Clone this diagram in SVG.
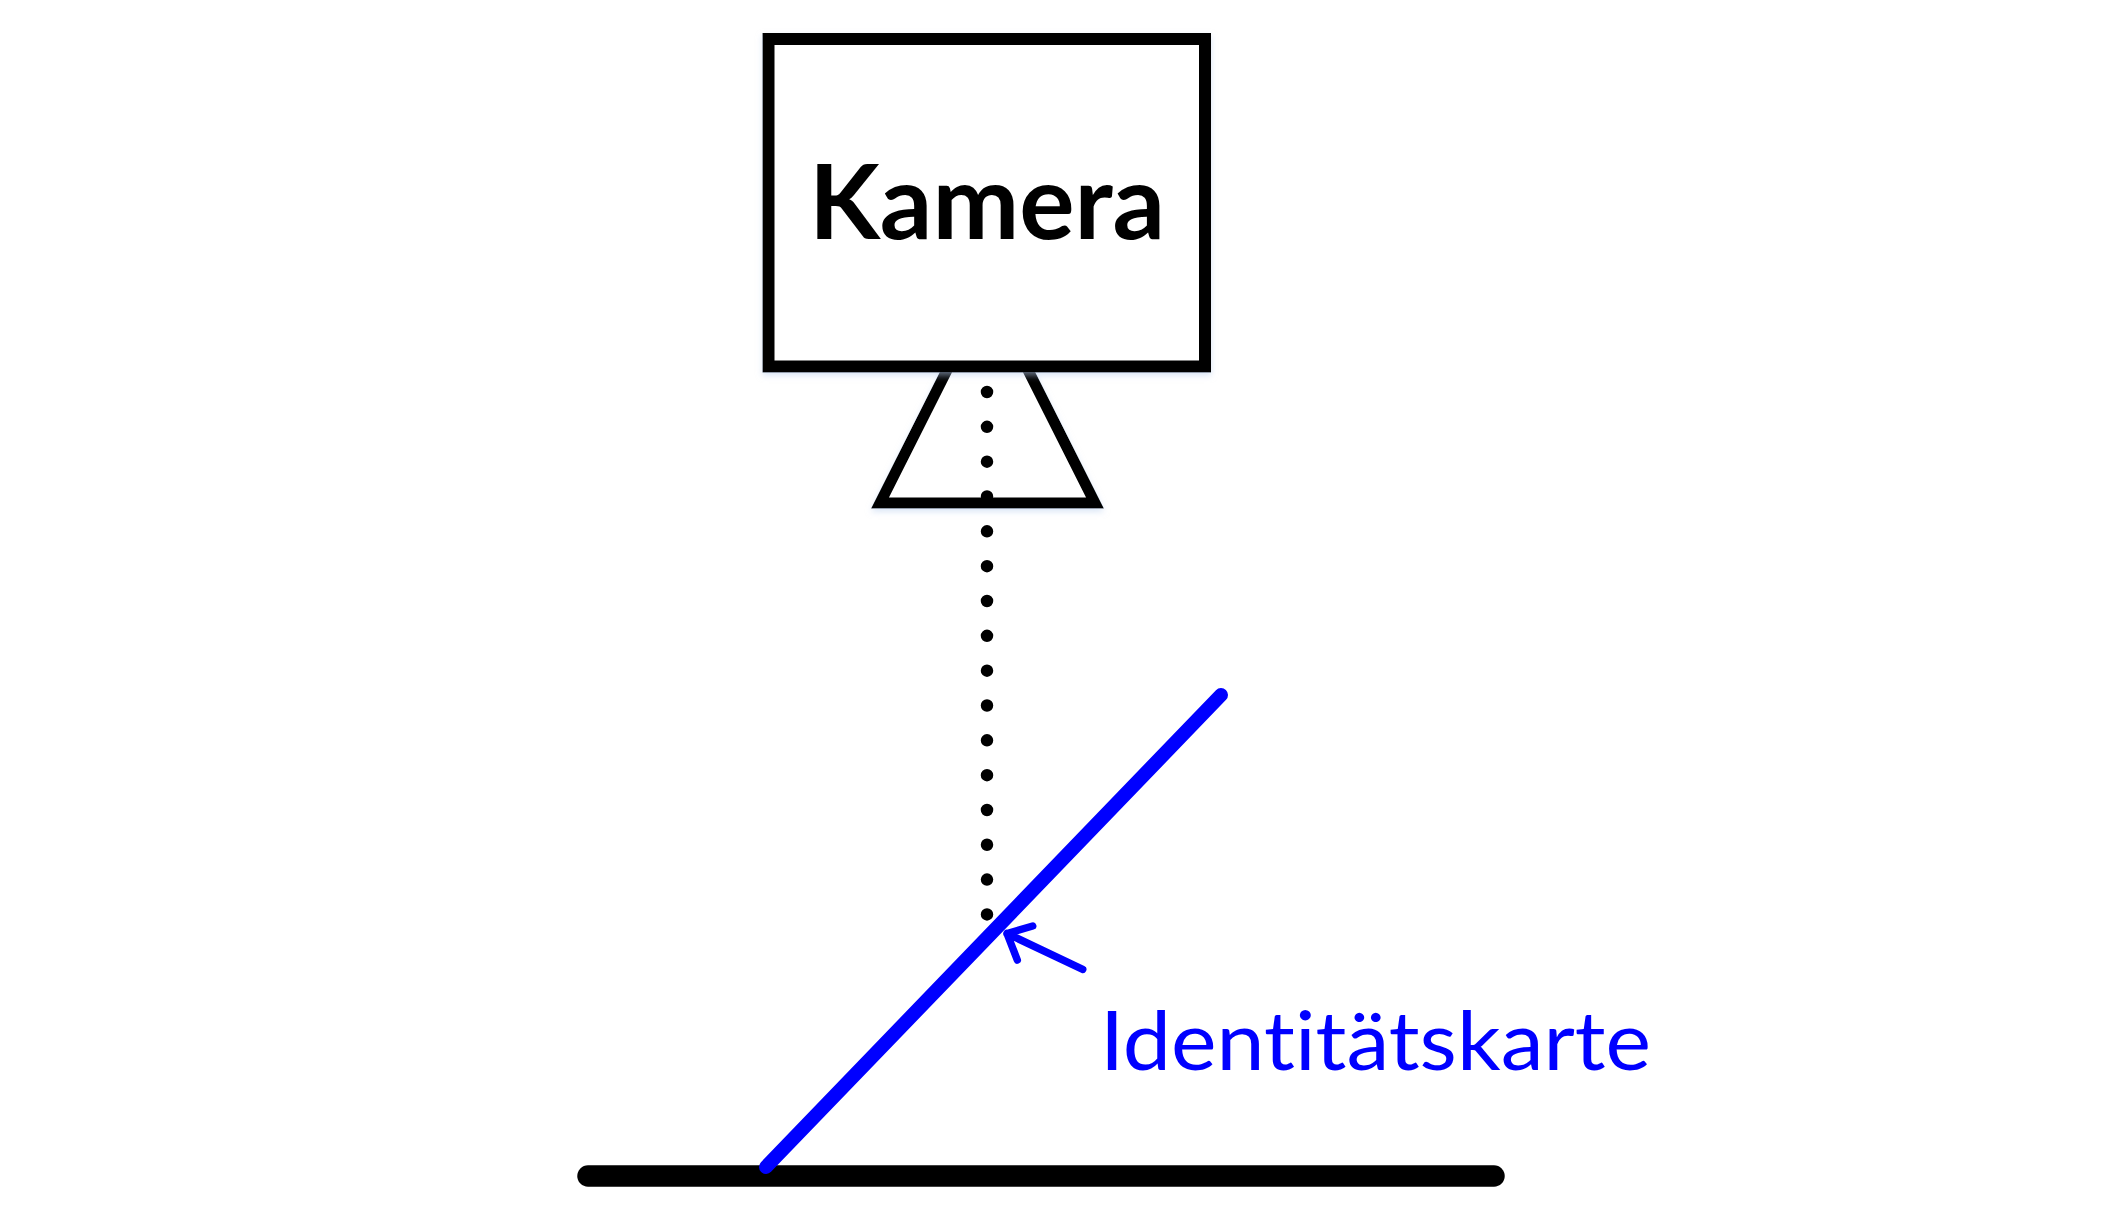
<svg xmlns="http://www.w3.org/2000/svg" width="2119" height="1231" viewBox="0 0 2119 1231">
  <defs>
    <filter id="glow" x="-10%" y="-10%" width="120%" height="130%">
      <feDropShadow dx="0" dy="3" stdDeviation="3" flood-color="#b8cfee" flood-opacity="0.55"/>
    </filter>
    <style>
      .outline { fill: #ffffff; stroke: #000000; stroke-linejoin: miter; }
      .title { font-family: Lato, "Liberation Sans", sans-serif; font-weight: 700; fill: #000000; font-variant-ligatures: none; font-feature-settings: "liga" 0, "clig" 0; }
      .label { font-family: Lato, "Liberation Sans", sans-serif; font-weight: 400; fill: #0000ff; font-variant-ligatures: none; font-feature-settings: "liga" 0, "clig" 0; }
      .blue { stroke: #0000ff; fill: none; stroke-linecap: round; stroke-linejoin: round; }
    </style>
  </defs>
  <rect x="0" y="0" width="2119" height="1231" fill="#ffffff"/>

  <g id="lens" filter="url(#glow)">
    <polygon class="outline" stroke-width="11" points="949,366 1026,366 1095,503 880,503"/>
  </g>

  <g id="camera" filter="url(#glow)">
    <rect class="outline" stroke-width="12" x="768.5" y="39" width="436.5" height="327.5"/>
    <text class="title" x="987" y="239" font-size="104" text-anchor="middle" textLength="356" lengthAdjust="spacingAndGlyphs">Kamera</text>
  </g>

  <g id="surface">
    <line x1="588" y1="1176" x2="1494" y2="1176" stroke="#000000" stroke-width="21.5" stroke-linecap="round"/>
  </g>

  <g id="card">
    <line class="blue" x1="1221" y1="695" x2="766" y2="1167" stroke-width="14"/>
  </g>

  <g id="connectors">
    <line x1="987" y1="392" x2="987" y2="914.5" stroke="#000000" stroke-width="12.5" stroke-linecap="round" stroke-dasharray="0 34.83"/>
    <path class="blue" stroke-width="7.5" d="M1082.7,969.3 L1007,933.5 M1032.7,926 L1007,933.5 L1017.3,960"/>
  </g>

  <g id="card-label">
    <text class="label" x="1100" y="1070" font-size="81" textLength="551" lengthAdjust="spacingAndGlyphs">Identitätskarte</text>
  </g>
</svg>
